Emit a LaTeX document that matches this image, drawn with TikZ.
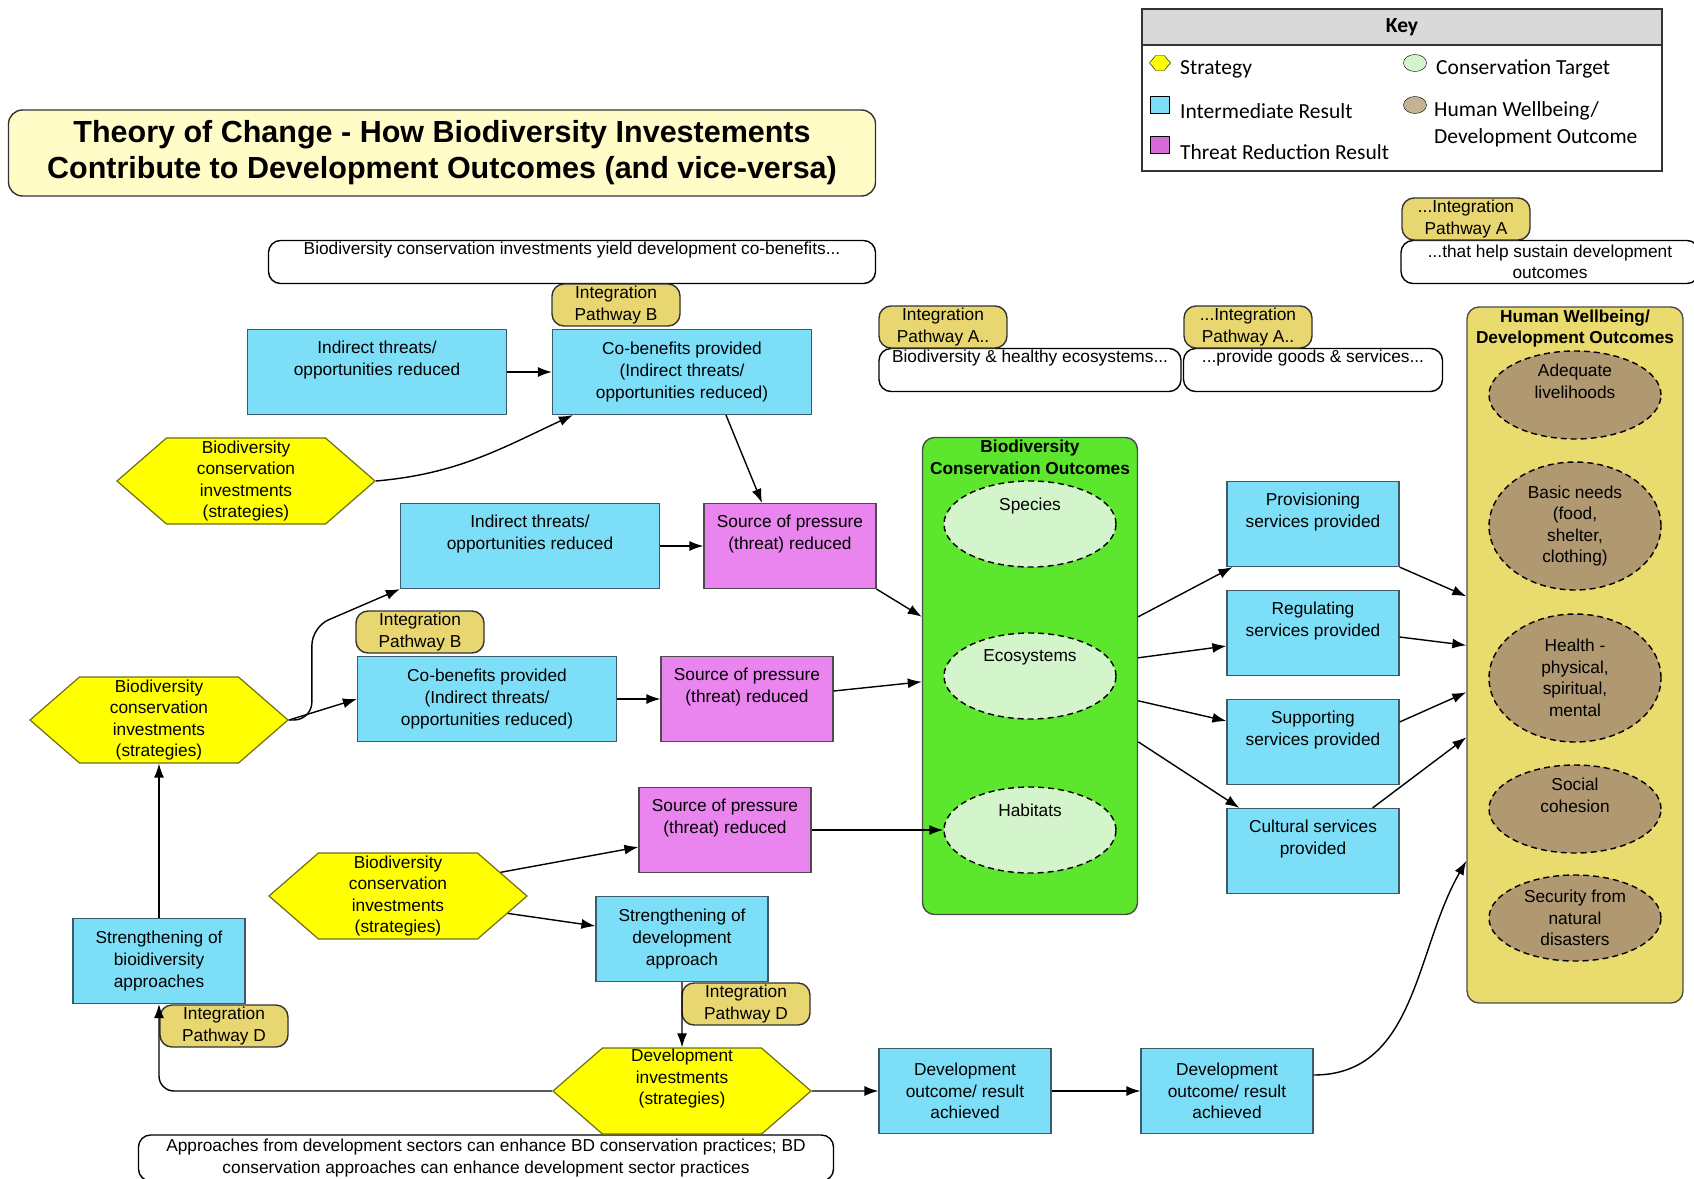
\documentclass[tikz,border=0pt]{standalone}
\usepackage{fontspec}
\setmainfont{Liberation Sans}
\newfontfamily\keyfont{Carlito}
\usetikzlibrary{arrows.meta,shapes.geometric,shapes.symbols}
\usepackage{xcolor}
\definecolor{irblue}{RGB}{125,222,247}
\definecolor{irline}{RGB}{60,90,105}
\definecolor{trpink}{RGB}{234,132,238}
\definecolor{stryel}{RGB}{255,255,0}
\definecolor{strline}{RGB}{110,110,20}
\definecolor{pwkhaki}{RGB}{232,214,112}
\definecolor{bcogreen}{RGB}{92,230,46}
\definecolor{tgtgreen}{RGB}{212,245,204}
\definecolor{hwyel}{RGB}{233,219,110}
\definecolor{hwbrown}{RGB}{176,152,112}
\definecolor{titleyel}{RGB}{255,252,200}
\definecolor{keygray}{RGB}{217,217,217}
\newcommand{\boxfont}{\fontsize{17.3}{21.6}\selectfont}
\newcommand{\keysize}{\keyfont\fontsize{21.5}{27}\selectfont}

\begin{document}
\begin{tikzpicture}[x=1pt,y=-1pt,
    ir/.style={rectangle,draw=irline,line width=1.2pt,fill=irblue,minimum width=172,minimum height=85,align=center,font=\boxfont,inner sep=2pt},
    tr/.style={ir,fill=trpink,draw=black!70},
    wide/.style={minimum width=259},
    strat/.style={signal,signal to=east and west,signal pointer angle=82,draw=strline,fill=stryel,line width=1.2pt,minimum width=258,minimum height=86,inner xsep=2pt,inner ysep=0pt,align=center,font=\boxfont},
    pway/.style={rectangle,rounded corners=12,draw=black!80,line width=1.4pt,fill=pwkhaki,minimum width=128,minimum height=42,inner sep=0pt,align=center,font=\boxfont},
    note/.style={rectangle,rounded corners=12,draw=black,line width=1.4pt,fill=white,minimum height=43,inner sep=0pt,align=center,font=\boxfont},
    tgt/.style={ellipse,draw,dash pattern=on 6pt off 4pt,line width=1.4pt,fill=tgtgreen,minimum width=172,minimum height=86,inner sep=0pt,align=center,font=\boxfont},
    hwo/.style={tgt,fill=hwbrown},
    keytext/.style={anchor=west,inner sep=0pt,align=left,font=\keysize},
    arr/.style={-{Latex[length=14pt,width=10pt]},line width=1.4pt}]
\fill[white] (0,0) rectangle (1694,1178);
\useasboundingbox (0,0) rectangle (1694,1178);

\node[rectangle,rounded corners=14,draw=black!80,line width=1.4pt,fill=titleyel,minimum width=867,minimum height=86,align=center,font=\bfseries\fontsize{30.5}{36}\selectfont] (title) at (442,153) {Theory of Change - How Biodiversity Investements\\Contribute to Development Outcomes (and vice-versa)};

\node[draw=black!80,line width=1.2pt,fill=white,minimum width=520,minimum height=162] (key) at (1402,90) {};
\node[draw=black!80,line width=1.2pt,fill=keygray,minimum width=520,minimum height=36,font=\keysize\bfseries] (keyhead) at (1402,27) {Key};
\node[signal,signal to=east and west,signal pointer angle=100,draw,fill=stryel,minimum width=21,minimum height=15,inner sep=0pt] (kstrat) at (1160,63) {};
\node[draw,fill=irblue,minimum width=19,minimum height=17,inner sep=0pt] (kir) at (1160,105) {};
\node[draw,fill=trpink!80!violet,minimum width=19,minimum height=17,inner sep=0pt] (ktr) at (1160,145) {};
\node[ellipse,draw,fill=tgtgreen,minimum width=23,minimum height=17,inner sep=0pt] (ktgt) at (1415,63) {};
\node[ellipse,draw,fill=hwbrown!75!white,minimum width=23,minimum height=17,inner sep=0pt] (khw) at (1415,105) {};
\foreach \nm/\xx/\yy/\txt in {ks/1180/69/Strategy, ki/1180/111/Intermediate Result, kt/1180/152/Threat Reduction Result, kc/1436/69/Conservation Target}
    \node[keytext] (\nm) at (\xx,\yy) {\txt};
\node[keytext] (kh) at (1434,124) {Human Wellbeing/\\Development Outcome};

\node[note,minimum width=607] (n1) at (572,262) {Biodiversity conservation investments yield development co-benefits...\\\strut};
\node[note,minimum width=302] (n2) at (1030,370) {Biodiversity \& healthy ecosystems...\\\strut};
\node[note,minimum width=259] (n3) at (1313,370) {...provide goods \& services...\\\strut};
\node[note,minimum width=298] (n4) at (1550,262) {...that help sustain development\\outcomes};
\node[note,minimum width=695,minimum height=46] (n5) at (486,1158) {Approaches from development sectors can enhance BD conservation practices; BD\\conservation approaches can enhance development sector practices};

\node[rectangle,rounded corners=12,draw=black!70,line width=1.4pt,fill=bcogreen,minimum width=215,minimum height=477] (bco) at (1030,676) {};
\node[anchor=north,align=center,inner sep=0pt,font=\bfseries\boxfont] (bcot) at ([yshift=-3]bco.north) {Biodiversity\\Conservation Outcomes};
\foreach \nm/\yy/\txt in {spc/524/Species, eco/676/Ecosystems, hab/830/Habitats}
    \node[tgt,label={[anchor=north,inner sep=0pt,yshift=-17,font=\boxfont]north:\txt}] (\nm) at (1030,\yy) {};

\node[rectangle,rounded corners=12,draw=black!70,line width=1.4pt,fill=hwyel,minimum width=216,minimum height=696] (hw) at (1575,655) {};
\node[anchor=north,align=center,inner sep=0pt,font=\bfseries\boxfont] (hwt) at ([yshift=-3]hw.north) {Human Wellbeing/\\Development Outcomes};
\node[hwo] (liv) at (1575,395) {Adequate\\livelihoods\\\strut};
\node[hwo,minimum height=128] (needs) at (1575,526) {Basic needs\\(food,\\shelter,\\clothing)};
\node[hwo,minimum height=128] (health) at (1575,678) {Health -\\physical,\\spiritual,\\mental};
\node[hwo] (soc) at (1575,809) {Social\\cohesion\\\strut};
\node[hwo] (sec) at (1575,918) {Security from\\natural\\disasters};

\node[ir,wide] (it1) at (377,372) {Indirect threats/\\opportunities reduced\\\strut};
\node[ir,wide] (cb1) at (682,372) {Co-benefits provided\\(Indirect threats/\\opportunities reduced)};
\node[ir,wide] (it2) at (530,546) {Indirect threats/\\opportunities reduced\\\strut};
\node[tr] (sp1) at (790,546) {Source of pressure\\(threat) reduced\\\strut};
\node[ir,wide] (cb2) at (487,699) {Co-benefits provided\\(Indirect threats/\\opportunities reduced)};
\node[tr] (sp2) at (747,699) {Source of pressure\\(threat) reduced\\\strut};
\node[tr] (sp3) at (725,830) {Source of pressure\\(threat) reduced\\\strut};
\node[ir] (sd) at (682,939) {Strengthening of\\development\\approach};
\node[ir] (sb) at (159,961) {Strengthening of\\bioidiversity\\approaches};
\node[ir] (do1) at (965,1091) {Development\\outcome/ result\\achieved};
\node[ir] (do2) at (1227,1091) {Development\\outcome/ result\\achieved};
\node[ir] (prov) at (1313,524) {Provisioning\\services provided\\\strut};
\node[ir] (reg) at (1313,633) {Regulating\\services provided\\\strut};
\node[ir] (sup) at (1313,742) {Supporting\\services provided\\\strut};
\node[ir] (cult) at (1313,851) {Cultural services\\provided\\\strut};

\node[strat] (s1) at (246,481) {Biodiversity\\conservation\\investments\\(strategies)};
\node[strat] (s2) at (159,720) {Biodiversity\\conservation\\investments\\(strategies)};
\node[strat] (s3) at (398,896) {Biodiversity\\conservation\\investments\\(strategies)};
\node[strat] (di) at (682,1091) {Development\\investments\\(strategies)\\\strut};

\node[pway] (pb1) at (616,305) {Integration\\Pathway B};
\node[pway] (pb2) at (420,632) {Integration\\Pathway B};
\node[pway] (pa1) at (943,327) {Integration\\Pathway A..};
\node[pway] (pa2) at (1248,327) {...Integration\\Pathway A..};
\node[pway] (pa3) at (1466,219) {...Integration\\Pathway A};
\node[pway] (pd1) at (746,1004) {Integration\\Pathway D};
\node[pway] (pd2) at (224,1026) {Integration\\Pathway D};

\draw[arr] (it1) -- (cb1);
\draw[arr] (s1.east) to[out=5,in=205] ([xshift=21]cb1.south west);
\draw[arr] ([xshift=44]cb1.south) -- ([xshift=-28]sp1.north);
\draw[arr] (it2) -- (sp1);
\draw[arr,rounded corners=18] (s2.east) -- ++(23,0) -- ++(0,-93) -- (it2.south west);
\draw[arr] (s2.east) -- (cb2.west);
\draw[arr] (cb2) -- (sp2);
\draw[arr] (sp1.south east) -- ([yshift=-180]bco.north west);
\draw[arr] ([yshift=8]sp2.east) -- ([yshift=-245]bco.north west);
\draw[arr] (sp3) -- (hab);
\draw[arr] (s3.13) -- ([yshift=-17]sp3.west);
\draw[arr] (s3.-9) -- ([yshift=13]sd.west);
\draw[arr] (sd) -- (di);
\draw[arr,rounded corners=15] (di.west) -| (sb.south);
\draw[arr] (sb) -- (s2);
\draw[arr] (di) -- (do1);
\draw[arr] (do1) -- (do2);
\draw[arr] ([yshift=16]do2.east) to[out=0,in=240] ([yshift=-206]hw.west);
\draw[arr] ([yshift=-180]bco.north east) -- ([xshift=6]prov.south west);
\draw[arr] ([yshift=-221]bco.north east) -- ([yshift=-13]reg.west);
\draw[arr] ([yshift=-264]bco.north east) -- ([yshift=21]sup.west);
\draw[arr] ([yshift=-305]bco.north east) -- ([xshift=13]cult.north west);
\draw[arr] (prov.south east) -- ([yshift=-290]hw.north west);
\draw[arr] ([yshift=-4]reg.east) -- ([yshift=-339]hw.north west);
\draw[arr] ([yshift=20]sup.east) -- ([yshift=-386]hw.north west);
\draw[arr] ([xshift=-27]cult.north east) -- ([yshift=-431]hw.north west);
\end{tikzpicture}
\end{document}
